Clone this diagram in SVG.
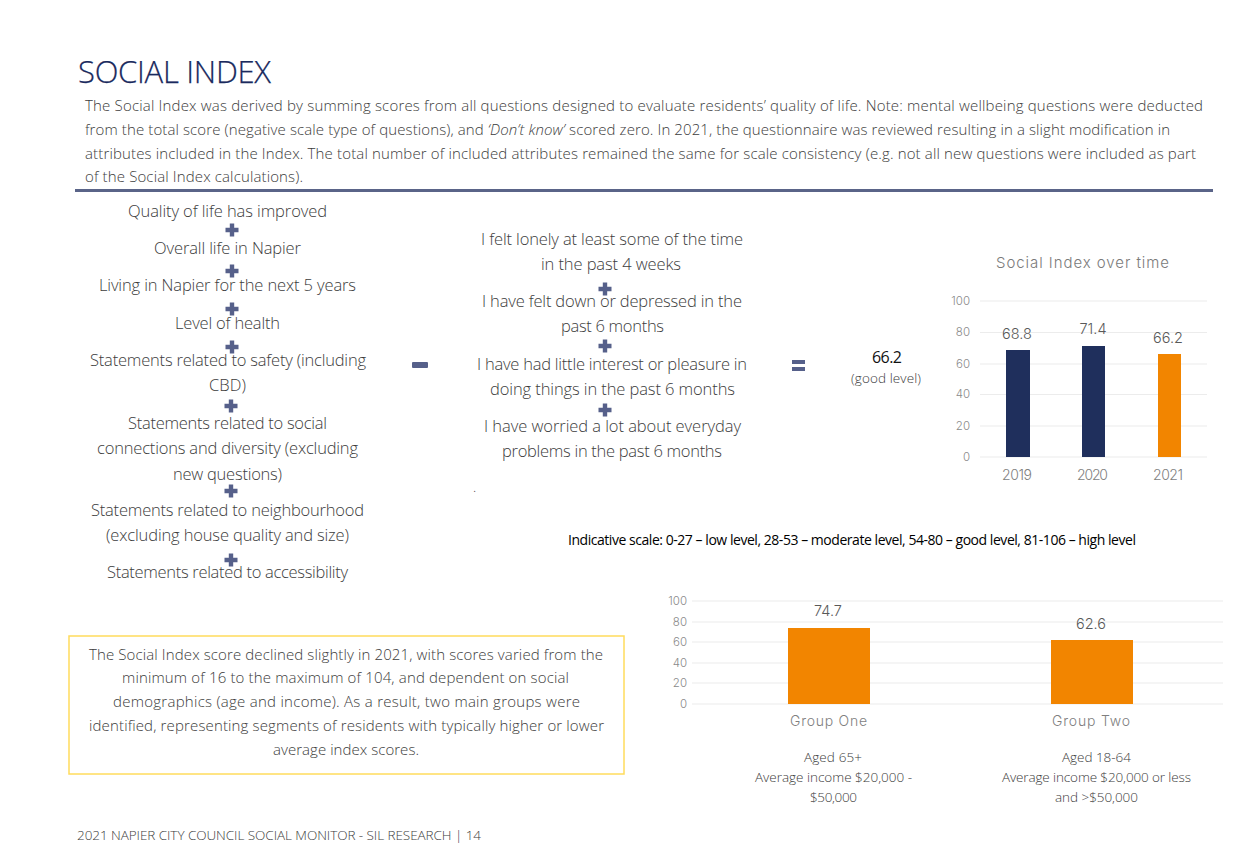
<svg xmlns="http://www.w3.org/2000/svg" width="1250" height="863" viewBox="0 0 1250 863">
<defs>
<style>
text{font-family:"Open Sans","Noto Sans","Liberation Sans",sans-serif;font-weight:300;fill:#3c3c3c}
.t{font-size:31px;fill:#1a2a5e;font-weight:300;stroke:#1a2a5e;stroke-width:.25px}
.b{font-size:15px}
.l{font-size:16.5px}
.s{font-size:13.5px}
.k{font-size:14px;font-weight:500;fill:#000}
.f{font-size:13.5px}
.ct{font-family:"Inter","Open Sans",sans-serif;font-size:15px;fill:#7a7a7a}
.ax{font-family:"Inter","Open Sans",sans-serif;font-size:11.5px;fill:#8a8a8a;text-anchor:end}
.cat{font-family:"Inter","Open Sans",sans-serif;font-size:14px;fill:#7f7f7f}
.val{font-family:"Inter","Open Sans",sans-serif;font-size:14.5px;fill:#595959;text-anchor:middle}
.g{stroke:#ececec;stroke-width:1.2}
.navy{fill:#1f2f5c}.or{fill:#f28500}
.op{fill:#56608a}
</style>
<path id="plus" class="op" d="M-2.2-6.5H2.2V-2.2H6.500V2.200H2.200V6.500H-2.200V2.200H-6.500V-2.200H-2.200Z"/>
</defs>
<rect width="1250" height="863" fill="#fff"/>
<g id="header">
<text class="t" x="78" y="83" textLength="193">SOCIAL INDEX</text>
<text class="b" x="85" y="111" textLength="1118">The Social Index was derived by summing scores from all questions designed to evaluate residents’ quality of life. Note: mental wellbeing questions were deducted</text>
<text class="b" x="85" y="135" textLength="1085">from the total score (negative scale type of questions), and <tspan font-style="italic">‘Don’t know’</tspan> scored zero. In 2021, the questionnaire was reviewed resulting in a slight modification in</text>
<text class="b" x="85" y="159" textLength="1111">attributes included in the Index. The total number of included attributes remained the same for scale consistency (e.g. not all new questions were included as part</text>
<text class="b" x="85" y="182" textLength="218">of the Social Index calculations).</text>
<rect x="75" y="189" width="1138" height="3" fill="#5a6488"/>
</g>
<g id="positive-terms">
<text class="l" x="128" y="217" textLength="199">Quality of life has improved</text>
<use href="#plus" x="232" y="230"/>
<text class="l" x="154" y="254" textLength="147">Overall life in Napier</text>
<use href="#plus" x="232" y="271"/>
<text class="l" x="99" y="291" textLength="257">Living in Napier for the next 5 years</text>
<use href="#plus" x="232" y="309"/>
<text class="l" x="175" y="329" textLength="105">Level of health</text>
<use href="#plus" x="232" y="347"/>
<text class="l" x="90" y="366" textLength="276">Statements related to safety (including</text>
<text class="l" x="209" y="391" textLength="37">CBD)</text>
<use href="#plus" x="231" y="406"/>
<text class="l" x="128" y="429" textLength="199">Statements related to social</text>
<text class="l" x="97" y="454" textLength="261">connections and diversity (excluding</text>
<text class="l" x="173" y="480" textLength="109">new questions)</text>
<use href="#plus" x="231" y="491"/>
<text class="l" x="91" y="516" textLength="273">Statements related to neighbourhood</text>
<text class="l" x="106" y="541" textLength="243">(excluding house quality and size)</text>
<use href="#plus" x="231" y="560"/>
<text class="l" x="107" y="578" textLength="241">Statements related to accessibility</text>
</g>
<g id="minus"><rect class="op" x="412" y="362" width="16" height="6" rx="1"/></g>
<g id="negative-terms">
<text class="l" x="481" y="245" textLength="262">I felt lonely at least some of the time</text>
<text class="l" x="541" y="270" textLength="140">in the past 4 weeks</text>
<use href="#plus" x="605" y="289"/>
<text class="l" x="482" y="307" textLength="260">I have felt down or depressed in the</text>
<text class="l" x="561" y="332" textLength="103">past 6 months</text>
<use href="#plus" x="605" y="346"/>
<text class="l" x="477" y="370" textLength="270">I have had little interest or pleasure in</text>
<text class="l" x="490" y="395" textLength="245">doing things in the past 6 months</text>
<use href="#plus" x="605" y="410"/>
<text class="l" x="484" y="432" textLength="257">I have worried a lot about everyday</text>
<text class="l" x="502" y="457" textLength="220">problems in the past 6 months</text>
<text class="s" x="473" y="492">.</text>
</g>
<g id="equals"><rect class="op" x="792" y="360" width="13" height="4"/><rect class="op" x="792" y="367" width="13" height="4"/></g>
<g id="result">
<text x="872" y="363" font-size="16" style="font-weight:400;fill:#111" textLength="30">66.2</text>
<text class="s" x="851" y="383" textLength="70">(good level)</text>
</g>
<g id="chart-over-time">
<text class="ct" x="996" y="268" textLength="173">Social Index over time</text>
<path class="g" d="M980 301H1207M980 332.500H1207M980 364H1207M980 394.500H1207M980 426H1207M980 457H1207"/>
<text class="ax" x="970" y="305">100</text><text class="ax" x="970" y="336">80</text><text class="ax" x="970" y="368">60</text><text class="ax" x="970" y="398">40</text><text class="ax" x="970" y="430">20</text><text class="ax" x="970" y="461">0</text>
<rect class="navy" x="1006" y="350" width="24" height="107"/>
<rect class="navy" x="1082" y="346" width="23" height="111"/>
<rect class="or" x="1158" y="354" width="23" height="103"/>
<text class="val" x="1017" y="339">68.8</text><text class="val" x="1093" y="334">71.4</text><text class="val" x="1168" y="343">66.2</text>
<text class="cat" x="1002" y="480" textLength="30">2019</text><text class="cat" x="1077" y="480" textLength="31">2020</text><text class="cat" x="1153" y="480" textLength="30">2021</text>
</g>
<g id="scale-note"><text class="k" x="568" y="545" textLength="568">Indicative scale: 0-27 – low level, 28-53 – moderate level, 54-80 – good level, 81-106 – high level</text></g>
<g id="chart-groups">
<path class="g" d="M692 601H1223M692 622H1223M692 642H1223M692 663H1223M692 683H1223M692 704H1223"/>
<text class="ax" x="687" y="605">100</text><text class="ax" x="687" y="626">80</text><text class="ax" x="687" y="646">60</text><text class="ax" x="687" y="667">40</text><text class="ax" x="687" y="687">20</text><text class="ax" x="687" y="708">0</text>
<rect class="or" x="788" y="628" width="82" height="76"/>
<rect class="or" x="1051" y="640" width="82" height="64"/>
<text class="val" x="828" y="616">74.7</text><text class="val" x="1091" y="629">62.6</text>
<text class="cat" x="790" y="726" textLength="77">Group One</text><text class="cat" x="1052" y="726" textLength="78">Group Two</text>
<text class="s" x="804" y="762" textLength="58">Aged 65+</text>
<text class="s" x="755" y="782" textLength="157">Average income $20,000 -</text>
<text class="s" x="810" y="802" textLength="47">$50,000</text>
<text class="s" x="1062" y="762" textLength="69">Aged 18-64</text>
<text class="s" x="1002" y="782" textLength="189">Average income $20,000 or less</text>
<text class="s" x="1055" y="802" textLength="83">and &gt;$50,000</text>
</g>
<g id="summary-box">
<rect x="69" y="636" width="555" height="138" fill="#fff" stroke="#ffdc5c" stroke-width="1.5"/>
<text class="b" x="89" y="660" textLength="514">The Social Index score declined slightly in 2021, with scores varied from the</text>
<text class="b" x="122" y="683" textLength="447">minimum of 16 to the maximum of 104, and dependent on social</text>
<text class="b" x="113" y="707" textLength="467">demographics (age and income). As a result, two main groups were</text>
<text class="b" x="89" y="731" textLength="515">identified, representing segments of residents with typically higher or lower</text>
<text class="b" x="273" y="755" textLength="146">average index scores.</text>
</g>
<g id="footer"><text class="f" x="77" y="840" textLength="404">2021 NAPIER CITY COUNCIL SOCIAL MONITOR - SIL RESEARCH | 14</text></g>
</svg>
